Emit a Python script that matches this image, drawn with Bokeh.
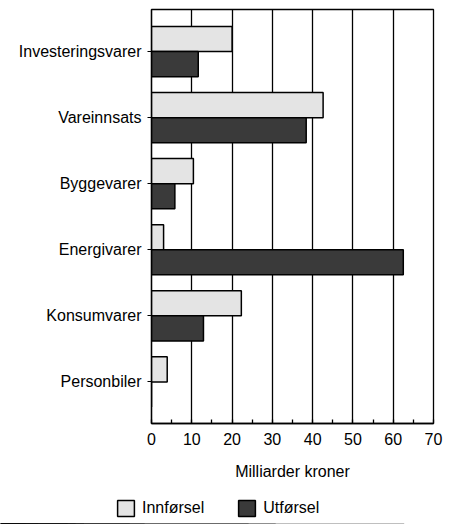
from bokeh.plotting import figure
from bokeh.models import ColumnDataSource, SingleIntervalTicker, Legend, LegendItem, Range1d
from bokeh.embed import file_html
from bokeh.resources import INLINE

categories = ["Investeringsvarer", "Vareinnsats", "Byggevarer", "Energivarer", "Konsumvarer", "Personbiler"]
innforsel = [20.0, 42.6, 10.4, 3.0, 22.3, 3.9]
utforsel = [11.6, 38.4, 5.8, 62.5, 12.9, 0.0]
x_ticks = [0, 10, 20, 30, 40, 50, 60, 70]
series_names = ["Innførsel", "Utførsel"]
series_colors = ["#e4e4e4", "#3a3a3a"]

FONT = "Liberation Sans"
FS = "16px"
pos = list(range(len(categories)))
bar_h = 0.38

src_in = ColumnDataSource(dict(y=[p - bar_h / 2 for p in pos], right=innforsel))
src_ut = ColumnDataSource(dict(y=[p + bar_h / 2 for p in pos], right=utforsel))

p = figure(width=452, height=488, output_backend="svg", toolbar_location=None,
           x_range=Range1d(0, 70), y_range=Range1d(len(categories) - 0.37, -0.637),
           min_border_left=151, min_border_right=19, min_border_top=9, min_border_bottom=65)

p.outline_line_color = "black"
p.outline_line_width = 1.3
p.background_fill_color = "white"

p.ygrid.grid_line_color = None
p.xgrid.grid_line_color = "black"
p.xgrid.grid_line_width = 1.3
p.xgrid.ticker = SingleIntervalTicker(interval=10)

p.hbar(y="y", right="right", left=0, height=bar_h, source=src_in,
       fill_color=series_colors[0], line_color="black", line_width=1.5)
p.hbar(y="y", right="right", left=0, height=bar_h, source=src_ut,
       fill_color=series_colors[1], line_color="black", line_width=1.5)

xa = p.xaxis[0]
xa.ticker = SingleIntervalTicker(interval=10, num_minor_ticks=2)
xa.axis_line_width = 1.3
xa.major_tick_in = 0
xa.major_tick_out = 0
xa.minor_tick_in = 4
xa.minor_tick_out = 0
xa.minor_tick_line_width = 1.3
xa.major_label_text_font = FONT
xa.major_label_text_font_size = FS
xa.major_label_text_color = "black"
xa.major_label_standoff = 9
xa.axis_label = "Milliarder kroner"
xa.axis_label_text_font = FONT
xa.axis_label_text_font_size = FS
xa.axis_label_text_font_style = "normal"
xa.axis_label_text_color = "black"
xa.axis_label_standoff = 15

ya = p.yaxis[0]
ya.ticker = pos
ya.major_label_overrides = {i: c for i, c in enumerate(categories)}
ya.axis_line_width = 1.3
ya.major_tick_in = 0
ya.major_tick_out = 4
ya.minor_tick_line_color = None
ya.major_label_text_font = FONT
ya.major_label_text_font_size = FS
ya.major_label_text_color = "black"
ya.major_label_standoff = 6

# legend strip (separate root, so its frame is not aligned with the chart's)
lf = figure(width=452, height=36, output_backend="svg", toolbar_location=None,
            x_axis_location=None, y_axis_location=None,
            min_border=0, outline_line_color=None,
            x_range=Range1d(0, 70), y_range=Range1d(100, 101))
lf.grid.visible = False
items = []
for name, col, vals in zip(series_names, series_colors, [innforsel, utforsel]):
    r = lf.hbar(y=pos, right=vals, left=0, height=bar_h,
                fill_color=col, line_color="black", line_width=1.5)
    items.append(LegendItem(label=name, renderers=[r]))
legend = Legend(items=items, orientation="horizontal", location=(115, 6),
                glyph_width=21, glyph_height=20, label_standoff=6, spacing=32,
                padding=0, margin=0, border_line_color=None, background_fill_alpha=0,
                label_text_font=FONT, label_text_font_size=FS, label_text_color="black")
lf.add_layout(legend, "center")

open("out.html", "w").write(file_html([p, lf], INLINE))
